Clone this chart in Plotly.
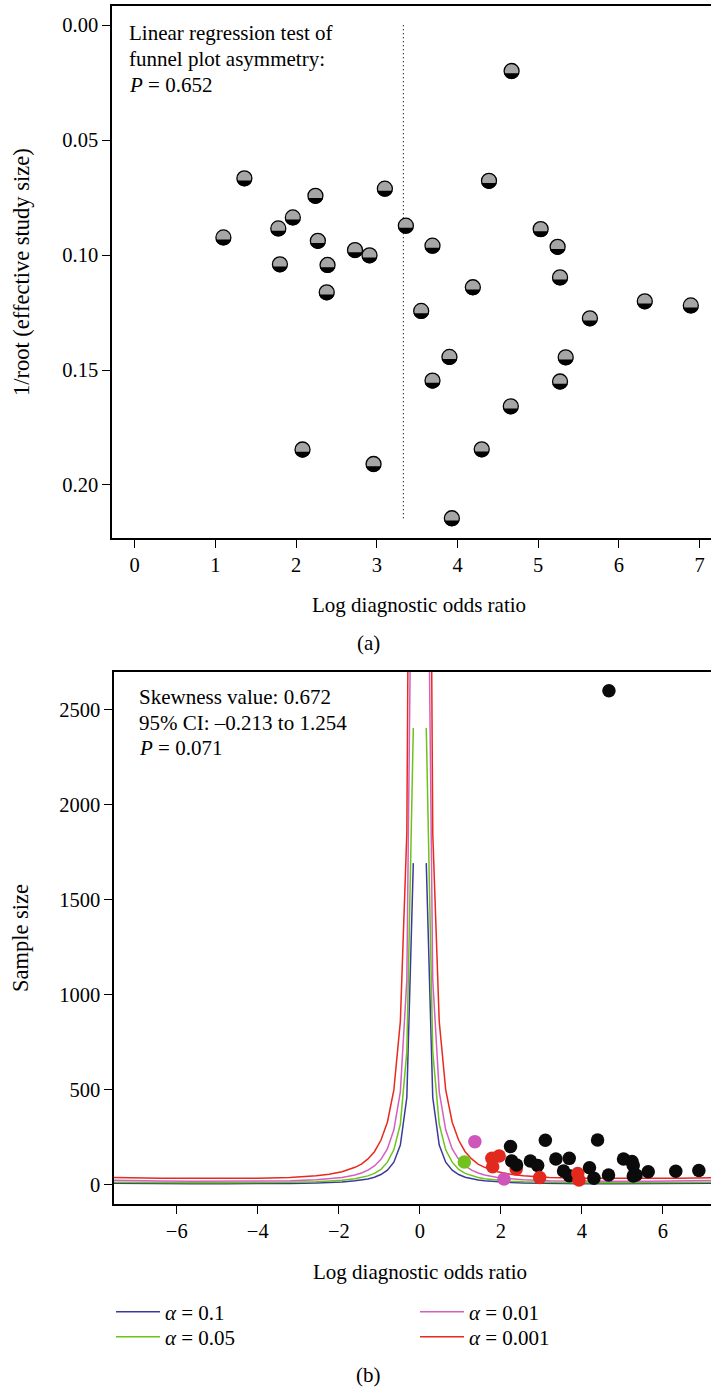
import math
import plotly.graph_objects as go

# ---------------- data ----------------
# one entry per study (same studies in both panels)
log_dor = [1.10, 1.36, 1.78, 1.80, 1.96, 2.08, 2.24, 2.27, 2.38, 2.39, 2.73,
           2.91, 2.96, 3.10, 3.36, 3.55, 3.69, 3.69, 3.90, 3.93, 4.19, 4.30,
           4.39, 4.66, 4.67, 5.03, 5.24, 5.27, 5.27, 5.34, 5.64, 6.32, 6.89]
inv_root_ess = [0.0923, 0.0666, 0.0884, 0.1040, 0.0836, 0.1846, 0.0742, 0.0938,
                0.1162, 0.1043, 0.0978, 0.1001, 0.1909, 0.0711, 0.0872, 0.1243,
                0.0959, 0.1546, 0.1443, 0.2145, 0.1140, 0.1845, 0.0677, 0.1658,
                0.0199, 0.0887, 0.0964, 0.1097, 0.1550, 0.1445, 0.1275, 0.1201,
                0.1219]
sample_size = [121, 228, 140, 96, 153, 31, 202, 126, 84, 105, 126,
               102, 39, 235, 137, 74, 140, 49, 60, 26, 91, 35,
               237, 53, 2600, 137, 123, 102, 47, 52, 70, 72, 76]
# significance band of each study in panel (b)
sig_band = ["0.05", "0.01", "0.001", "0.001", "0.001", "0.01", "<0.001", "<0.001",
            "0.001", "<0.001", "<0.001", "<0.001", "0.001", "<0.001", "<0.001",
            "<0.001", "<0.001", "<0.001", "0.001", "0.001", "<0.001", "<0.001",
            "<0.001", "<0.001", "<0.001", "<0.001", "<0.001", "<0.001", "<0.001",
            "<0.001", "<0.001", "<0.001", "<0.001"]
summary_logdor = 3.33

# contour curves of panel (b): |log DOR| and the sample size read on each curve
contour_abs_x = [0.16, 0.32, 0.48, 0.64, 0.80, 0.96, 1.12, 1.28, 1.44, 1.60,
                 1.92, 2.24, 2.56, 3.20, 4.00, 4.80, 5.60, 6.40, 7.20, 7.60]
n_alpha_01 = [1693, 460, 210, 120, 78, 55, 41, 32, 26, 22, 16, 13, 11, 8, 7, 7, 7, 7, 8, 9]
n_alpha_005 = [2404, 700, 320, 185, 120, 82, 61, 48, 39, 33, 25, 20, 17, 14, 12, 12, 12, 13, 14, 15]
n_alpha_001 = [4300, 1080, 490, 290, 190, 135, 100, 78, 63, 53, 40, 32, 27, 22, 20, 20, 20, 21, 23, 25]
n_alpha_0001 = [7200, 1850, 860, 500, 330, 235, 175, 137, 110, 93, 70, 56, 48, 40, 36, 35, 35, 36, 38, 40]

alpha_labels = ["0.1", "0.05", "0.01", "0.001"]

# ---------------- styling ----------------
W, H = 711, 1388
FONT = "Liberation Serif"
FS = 21
FS_TICK = 20.5
FS_YTITLE = 22.5
band_colors = {"<0.001": "#0b0b0b", "0.001": "#e2291d", "0.01": "#cf55bb", "0.05": "#72c21b"}
curve_colors = ["#3a3a9e", "#6cc417", "#d35fc1", "#e8291c"]


def px_x(p):
    return p / W


def px_y(p):
    return 1 - p / H


fig = go.Figure()

# ---------------- panel (a) ----------------
fig.add_trace(go.Scatter(
    x=[summary_logdor, summary_logdor], y=[0, max(inv_root_ess)],
    mode="lines", line=dict(color="black", width=1.2, dash="1px,3px"),
    xaxis="x", yaxis="y", showlegend=False, hoverinfo="skip"))
fig.add_trace(go.Scatter(
    x=log_dor, y=inv_root_ess, mode="markers",
    marker=dict(size=15, color="#a6a6a6", line=dict(color="black", width=1.3)),
    xaxis="x", yaxis="y", showlegend=False))

# black lower cap of each study symbol (pixel-sized, anchored on the data point)
R = 8.0
h = 2.2
beta = math.acos(h / R)
steps = 14
pts = []
for i in range(steps + 1):
    t = -beta + 2 * beta * i / steps
    pts.append((R * math.sin(t), -R * math.cos(t)))
cap_path = "M" + " L".join(f"{px:.2f},{py:.2f}" for px, py in pts) + " Z"
shapes = []
for xv, yv in zip(log_dor, inv_root_ess):
    shapes.append(dict(type="path", xref="x", yref="y", xsizemode="pixel",
                       ysizemode="pixel", xanchor=xv, yanchor=yv, path=cap_path,
                       fillcolor="black", line=dict(width=0), layer="above"))

# ---------------- panel (b) ----------------
curves = [n_alpha_01, n_alpha_005, n_alpha_001, n_alpha_0001]
legend_ids = ["legend", "legend2", "legend3", "legend4"]
for k, (ns, col, lab) in enumerate(zip(curves, curve_colors, alpha_labels)):
    xs = [-v for v in reversed(contour_abs_x)] + [None] + list(contour_abs_x)
    ys = list(reversed(ns)) + [None] + list(ns)
    fig.add_trace(go.Scatter(
        x=xs, y=ys, mode="lines", line=dict(color=col, width=1.5),
        name=f"<i>α</i> = {lab}", xaxis="x2", yaxis="y2",
        legend=legend_ids[k], hoverinfo="skip"))

fig.add_trace(go.Scatter(
    x=log_dor, y=sample_size, mode="markers",
    marker=dict(size=13.5, color=[band_colors[b] for b in sig_band]),
    xaxis="x2", yaxis="y2", showlegend=False))

axis_common = dict(showgrid=False, zeroline=False, showline=True, linecolor="black",
                   linewidth=1.5, ticks="outside", ticklen=8, tickwidth=1.2,
                   tickcolor="black", tickfont=dict(family=FONT, size=FS_TICK, color="black"),
                   automargin=False)

annotations = []


def add_text(text, x, y, xanchor="left", yanchor="middle", angle=0, size=FS):
    annotations.append(dict(text=text, x=px_x(x), y=px_y(y), xref="paper", yref="paper",
                            xanchor=xanchor, yanchor=yanchor, showarrow=False,
                            textangle=angle, align="left",
                            font=dict(family=FONT, size=size, color="black")))


# panel (a) texts
add_text("Linear regression test of", 127, 33)
add_text("funnel plot asymmetry:", 127, 59)
add_text("<i>P</i> = 0.652", 127, 85)
add_text("Log diagnostic odds ratio", 419, 605, xanchor="center")
add_text("1/root (effective study size)", 21, 272, xanchor="center", angle=-90, size=FS_YTITLE)
add_text("(a)", 368, 643, xanchor="center")

# panel (b) texts
add_text("Skewness value: 0.672", 137, 697)
add_text("95% CI: –0.213 to 1.254", 137, 723)
add_text("<i>P</i> = 0.071", 137, 748)
add_text("Log diagnostic odds ratio", 420, 1272, xanchor="center")
add_text("Sample size", 20, 938, xanchor="center", angle=-90, size=FS_YTITLE)
add_text("(b)", 368, 1375, xanchor="center")

legend_common = dict(font=dict(family=FONT, size=FS, color="black"),
                     bgcolor="rgba(0,0,0,0)", orientation="v", itemwidth=44,
                     xanchor="left", yanchor="middle", tracegroupgap=0)
legend_pos = [(111, 1312), (111, 1337), (415, 1312), (415, 1337)]

layout_legends = {}
for lid, (lx, ly) in zip(legend_ids, legend_pos):
    layout_legends[lid] = dict(x=px_x(lx), y=px_y(ly), **legend_common)

fig.update_layout(
    width=W, height=H, autosize=False,
    margin=dict(l=0, r=0, t=0, b=0),
    paper_bgcolor="white", plot_bgcolor="white",
    xaxis=dict(domain=[px_x(112), 1], range=[-0.28, 7.14], tickvals=list(range(8)),
               anchor="y", mirror=True, **axis_common),
    yaxis=dict(domain=[px_y(538), px_y(5.5)], range=[0.2231, -0.0086],
               tickvals=[0, 0.05, 0.10, 0.15, 0.20], tickformat=".2f",
               anchor="x", **axis_common),
    xaxis2=dict(domain=[px_x(114), 1], range=[-7.55, 7.19], tickvals=[-6, -4, -2, 0, 2, 4, 6],
                anchor="y2", mirror=True, **axis_common),
    yaxis2=dict(domain=[px_y(1204), px_y(671.7)], range=[-100, 2700],
                tickvals=[0, 500, 1000, 1500, 2000, 2500], anchor="x2", **axis_common),
    annotations=annotations,
    shapes=shapes,
    showlegend=True,
    **layout_legends,
)

fig.write_html(
    "out.html",
    config={"displayModeBar": False},
    post_script="document.body.style.margin='0';document.body.style.overflow='hidden';",
)
